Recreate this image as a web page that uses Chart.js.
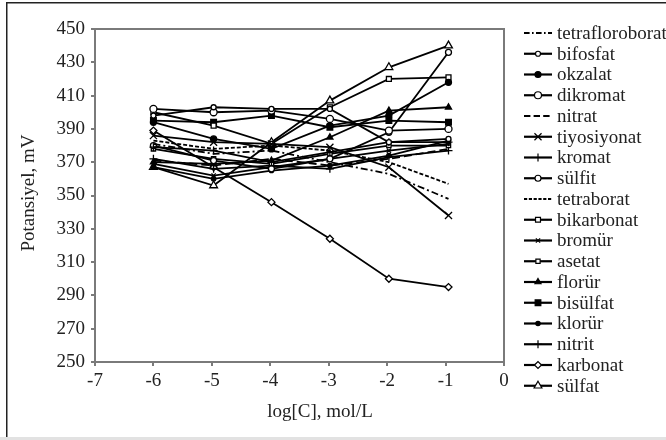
<!DOCTYPE html>
<html>
<head>
<meta charset="utf-8">
<script src="https://cdn.jsdelivr.net/npm/chart.js@4.4.1/dist/chart.umd.min.js"></script>
<style>
  html, body { margin: 0; padding: 0; background: #fff; }
  #wrap { width: 666px; height: 440px; position: relative; }
</style>
</head>
<body>
<div id="wrap"><canvas id="chart" width="666" height="440"></canvas></div>
<script>
// log[C] positions of the measurements
const concentrations = [-6, -4.97, -3.98, -2.98, -1.97, -0.95];

const seriesNames = [
    'tetrafloroborat', 'bifosfat', 'okzalat', 'dikromat', 'nitrat', 'tiyosiyonat',
    'kromat', 'sülfit', 'tetraborat', 'bikarbonat', 'bromür', 'asetat',
    'florür', 'bisülfat', 'klorür', 'nitrit', 'karbonat', 'sülfat'
];

// potential (mV) per anion
const tetrafloroborat = [381, 375, 377, 370, 363, 348];
const bifosfat        = [398, 403, 402, 402, 382, 384];
const okzalat         = [394, 384, 378, 392, 398, 418];
const dikromat        = [402, 400, 401, 396, 389, 390];
const nitrat          = [371, 368, 372, 368, 372, 378];
const tiyosiyonat     = [386, 382, 381, 379, 367, 338];
const kromat          = [379, 377, 370, 376, 382, 382];
const sulfit          = [380, 371, 366, 372, 388, 436];
const tetraborat      = [383, 378, 380, 377, 370, 357];
const bikarbonat      = [400, 392, 381, 403, 420, 421];
const bromur          = [369, 362, 367, 372, 377, 381];
const asetat          = [378, 372, 369, 375, 380, 380];
const florur          = [370, 369, 371, 385, 401, 403];
const bisulfat        = [395, 394, 398, 391, 395, 394];
const klorur          = [367, 360, 365, 368, 374, 383];
const nitrit          = [372, 366, 368, 366, 373, 377];
const karbonat        = [389, 367, 346, 324, 300, 295];
const sulfat          = [367, 356, 382, 407, 427, 440];

const seriesValues = [
    tetrafloroborat, bifosfat, okzalat, dikromat, nitrat, tiyosiyonat,
    kromat, sulfit, tetraborat, bikarbonat, bromur, asetat,
    florur, bisulfat, klorur, nitrit, karbonat, sulfat
];

const yTicks = [250, 270, 290, 310, 330, 350, 370, 390, 410, 430, 450];
const xTicks = [-7, -6, -5, -4, -3, -2, -1, 0];

// marker style per series: [pointStyle, radius, filled, dash]
const styles = [
    [false, 0, false, [7, 3, 2, 3]],
    ['circle', 2.5, false, []],
    ['circle', 3, true, []],
    ['circle', 3.5, false, []],
    [false, 0, false, [8, 4]],
    ['crossRot', 5, false, []],
    ['cross', 4, false, []],
    ['circle', 3, false, []],
    [false, 0, false, [4, 2]],
    ['rect', 3.5, false, []],
    ['crossRot', 3, false, []],
    ['rect', 3, false, []],
    ['triangle', 3.5, true, []],
    ['rect', 4, true, []],
    ['circle', 2.2, true, []],
    ['cross', 4, false, []],
    ['rectRot', 3.5, false, []],
    ['triangle', 4.5, false, []]
];

const serif = "'Liberation Serif', 'DejaVu Serif', serif";

const datasets = seriesNames.map((name, i) => {
    const [ps, r, filled, dash] = styles[i];
    return {
        label: name,
        data: seriesValues[i].map((v, j) => ({ x: concentrations[j], y: v })),
        borderColor: '#000',
        borderWidth: 1.8,
        borderDash: dash,
        backgroundColor: filled ? '#000' : '#fff',
        pointBorderColor: '#000',
        pointBackgroundColor: filled ? '#000' : '#fff',
        pointBorderWidth: 1.3,
        pointStyle: ps || 'circle',
        pointRadius: r,
        tension: 0,
        fill: false
    };
});

// frame, plot box, axis titles and the right-hand legend
const decorations = {
    id: 'decorations',
    beforeDraw(chart) {
        const ctx = chart.ctx;
        ctx.save();
        ctx.fillStyle = '#fff';
        ctx.fillRect(0, 0, 666, 440);
        ctx.fillStyle = '#222';
        ctx.fillRect(6, 2, 660, 1.5);
        ctx.fillRect(6, 2, 1.5, 435);
        ctx.fillStyle = '#e2e2e2';
        ctx.fillRect(0, 437, 666, 3);
        ctx.restore();
    },
    afterDraw(chart) {
        const ctx = chart.ctx;
        const a = chart.chartArea;
        ctx.save();
        ctx.strokeStyle = '#7a7a7a';
        ctx.lineWidth = 2;
        ctx.strokeRect(a.left, a.top, a.right - a.left, a.bottom - a.top);

        ctx.fillStyle = '#222';
        ctx.font = '19px ' + serif;
        ctx.textAlign = 'center';
        ctx.textBaseline = 'middle';
        ctx.fillText('log[C], mol/L', 320, 412);
        ctx.save();
        ctx.translate(29, 193);
        ctx.rotate(-Math.PI / 2);
        ctx.fillText('Potansiyel, mV', 0, 0);
        ctx.restore();

        chart.data.datasets.forEach((ds, i) => {
            const y = 33 + i * 20.75;
            ctx.strokeStyle = '#000';
            ctx.lineWidth = 2.2;
            ctx.setLineDash(ds.borderDash.length ? ds.borderDash.map(d => d * 0.8) : []);
            ctx.beginPath();
            ctx.moveTo(524, y);
            ctx.lineTo(552, y);
            ctx.stroke();
            ctx.setLineDash([]);
            if (ds.pointRadius > 0) {
                ctx.fillStyle = ds.pointBackgroundColor;
                ctx.strokeStyle = '#000';
                ctx.lineWidth = 1.2;
                Chart.helpers.drawPoint(ctx, {
                    pointStyle: ds.pointStyle,
                    radius: ds.pointRadius,
                    borderWidth: 1.2,
                    rotation: 0
                }, 538, y);
            }
            ctx.fillStyle = '#222';
            ctx.textAlign = 'left';
            ctx.textBaseline = 'middle';
            ctx.font = '19px ' + serif;
            ctx.fillText(ds.label, 557, y + 1);
        });
        ctx.restore();
    }
};

new Chart(document.getElementById('chart'), {
    type: 'line',
    data: { datasets: datasets },
    options: {
        responsive: false,
        animation: false,
        layout: { padding: { left: 0, top: 29, right: 162, bottom: 0 } },
        plugins: {
            legend: { display: false },
            tooltip: { enabled: false }
        },
        scales: {
            x: {
                type: 'linear',
                min: -7,
                max: 0,
                afterFit: (scale) => { scale.height = 78; },
                afterBuildTicks: (scale) => { scale.ticks = xTicks.map(v => ({ value: v })); },
                grid: {
                    drawOnChartArea: false,
                    drawTicks: true,
                    tickLength: 4,
                    color: '#7a7a7a',
                    lineWidth: 2
                },
                border: { color: '#7a7a7a', width: 2 },
                ticks: {
                    color: '#222',
                    padding: 4,
                    font: { family: serif, size: 19 }
                }
            },
            y: {
                min: 250,
                max: 450,
                afterFit: (scale) => { scale.width = 95; },
                afterBuildTicks: (scale) => { scale.ticks = yTicks.map(v => ({ value: v })); },
                grid: {
                    drawOnChartArea: false,
                    drawTicks: true,
                    tickLength: 4,
                    color: '#7a7a7a',
                    lineWidth: 2
                },
                border: { color: '#7a7a7a', width: 2 },
                ticks: {
                    color: '#222',
                    padding: 6,
                    font: { family: serif, size: 19 }
                }
            }
        }
    },
    plugins: [decorations]
});
</script>
</body>
</html>
